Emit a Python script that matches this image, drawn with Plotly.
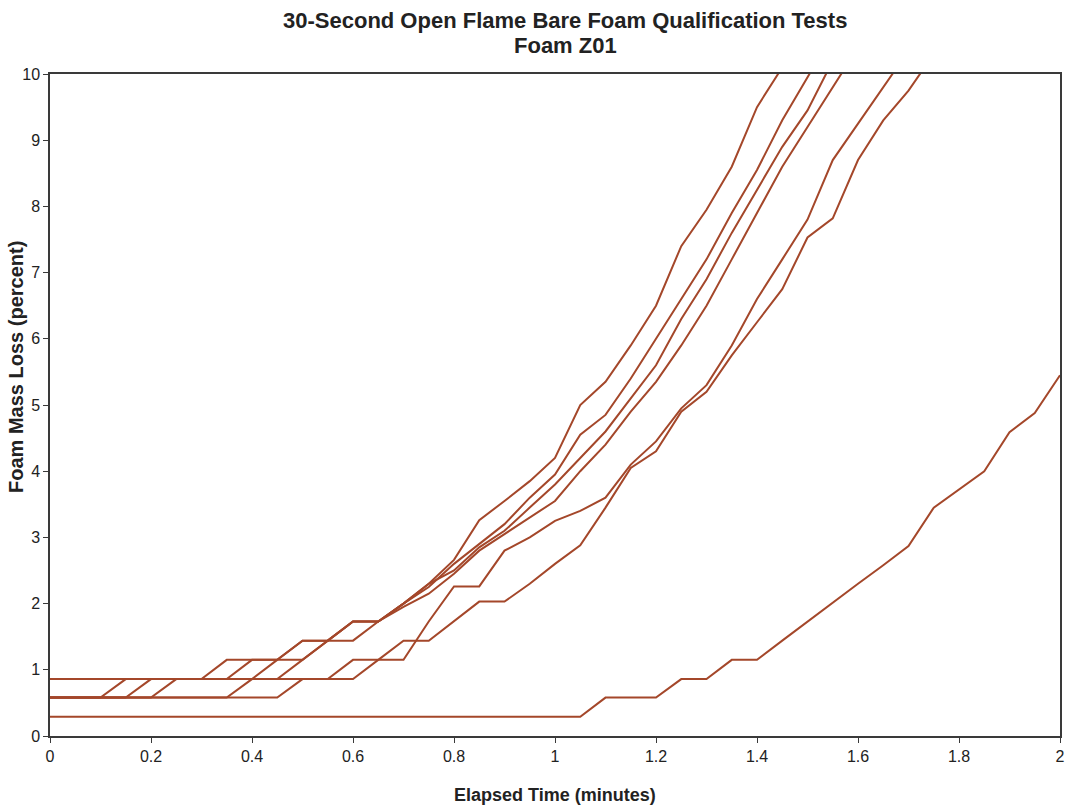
import plotly.graph_objects as go

# Sample times (minutes), one reading every 3 seconds
time_min = [round(i * 0.05, 2) for i in range(41)]

# Foam mass loss (percent) for each qualification test
test_a = [0.86, 0.86, 0.86, 0.86, 0.86, 0.86, 0.86, 1.15, 1.15, 1.15,
          1.44, 1.44, 1.73, 1.73, 2.00, 2.30, 2.66, 3.26, 3.55, 3.85,
          4.20, 5.00, 5.35, 5.90, 6.50, 7.40, 7.95, 8.60, 9.50, 10.10]
test_b = [0.58, 0.58, 0.58, 0.86, 0.86, 0.86, 0.86, 0.86, 1.15, 1.15,
          1.44, 1.44, 1.73, 1.73, 2.00, 2.25, 2.60, 2.90, 3.20, 3.60,
          3.95, 4.55, 4.85, 5.40, 6.00, 6.60, 7.20, 7.90, 8.55, 9.30,
          9.95, 10.60]
test_c = [0.58, 0.58, 0.58, 0.58, 0.86, 0.86, 0.86, 0.86, 0.86, 0.86,
          1.15, 1.44, 1.73, 1.73, 2.00, 2.30, 2.50, 2.85, 3.10, 3.45,
          3.80, 4.20, 4.60, 5.10, 5.60, 6.30, 6.90, 7.60, 8.25, 8.90,
          9.45, 10.20]
test_d = [0.58, 0.58, 0.58, 0.58, 0.58, 0.86, 0.86, 0.86, 0.86, 1.15,
          1.15, 1.44, 1.44, 1.73, 1.95, 2.15, 2.45, 2.80, 3.05, 3.30,
          3.55, 4.00, 4.40, 4.90, 5.35, 5.90, 6.50, 7.20, 7.90, 8.60,
          9.20, 9.80, 10.40]
test_e = [0.58, 0.58, 0.58, 0.58, 0.58, 0.58, 0.58, 0.58, 0.86, 0.86,
          0.86, 0.86, 1.15, 1.15, 1.15, 1.73, 2.26, 2.26, 2.80, 3.00,
          3.25, 3.40, 3.60, 4.10, 4.45, 4.95, 5.30, 5.90, 6.60, 7.20,
          7.80, 8.70, 9.25, 9.80, 10.35]
test_f = [0.58, 0.58, 0.58, 0.58, 0.58, 0.58, 0.58, 0.58, 0.58, 0.58,
          0.86, 0.86, 0.86, 1.15, 1.44, 1.44, 1.73, 2.03, 2.03, 2.30,
          2.60, 2.88, 3.45, 4.05, 4.30, 4.90, 5.20, 5.75, 6.25, 6.75,
          7.53, 7.82, 8.70, 9.30, 9.75, 10.30]
test_g = [0.29, 0.29, 0.29, 0.29, 0.29, 0.29, 0.29, 0.29, 0.29, 0.29,
          0.29, 0.29, 0.29, 0.29, 0.29, 0.29, 0.29, 0.29, 0.29, 0.29,
          0.29, 0.29, 0.58, 0.58, 0.58, 0.86, 0.86, 1.15, 1.15, 1.44,
          1.73, 2.01, 2.30, 2.58, 2.87, 3.45, 3.72, 4.00, 4.59, 4.88,
          5.45]

x_ticks = [0, 0.2, 0.4, 0.6, 0.8, 1, 1.2, 1.4, 1.6, 1.8, 2]
x_tick_text = ["0", "0.2", "0.4", "0.6", "0.8", "1", "1.2", "1.4", "1.6", "1.8", "2"]
y_ticks = list(range(0, 11))

title_lines = ["30-Second Open Flame Bare Foam Qualification Tests", "Foam Z01"]
x_title = "Elapsed Time (minutes)"
y_title = "Foam Mass Loss (percent)"

LINE_COLOR = "#A4472A"
TEXT_COLOR = "#222222"
FONT = "Liberation Sans, Arial, sans-serif"

fig = go.Figure()
for series in [test_a, test_b, test_c, test_d, test_e, test_f, test_g]:
    fig.add_trace(go.Scatter(
        x=time_min[:len(series)], y=series, mode="lines",
        line=dict(color=LINE_COLOR, width=2),
        showlegend=False, hoverinfo="skip",
    ))

axis_common = dict(
    showline=True, linecolor="#3a3a3a", linewidth=1.5, mirror=True,
    showgrid=False, zeroline=False,
    ticks="outside", ticklen=5, tickwidth=1, tickcolor="#3a3a3a",
    tickfont=dict(family=FONT, size=16, color=TEXT_COLOR),
)

# Two-line heading and axis captions placed as paper-referenced annotations
annotations = [
    dict(text=f"<b>{title_lines[0]}</b>", x=0.51, y=1.081,
         font=dict(family=FONT, size=22, color=TEXT_COLOR)),
    dict(text=f"<b>{title_lines[1]}</b>", x=0.51, y=1.043,
         font=dict(family=FONT, size=22, color=TEXT_COLOR)),
    dict(text=f"<b>{x_title}</b>", x=0.5, y=-0.089,
         font=dict(family=FONT, size=18, color=TEXT_COLOR)),
    dict(text=f"<b>{y_title}</b>", x=-0.033, y=0.557, textangle=-90,
         font=dict(family=FONT, size=20, color=TEXT_COLOR)),
]
for a in annotations:
    a.update(xref="paper", yref="paper", xanchor="center", yanchor="middle",
             showarrow=False)

fig.update_layout(
    width=1072, height=806,
    margin=dict(l=50, r=7, t=74, b=70),
    paper_bgcolor="white", plot_bgcolor="white",
    font=dict(family=FONT, color=TEXT_COLOR),
    xaxis=dict(range=[0, 2], tickvals=x_ticks, ticktext=x_tick_text, **axis_common),
    yaxis=dict(range=[0, 10], tickvals=y_ticks, **axis_common),
    annotations=annotations,
)

fig.write_html("out.html")
